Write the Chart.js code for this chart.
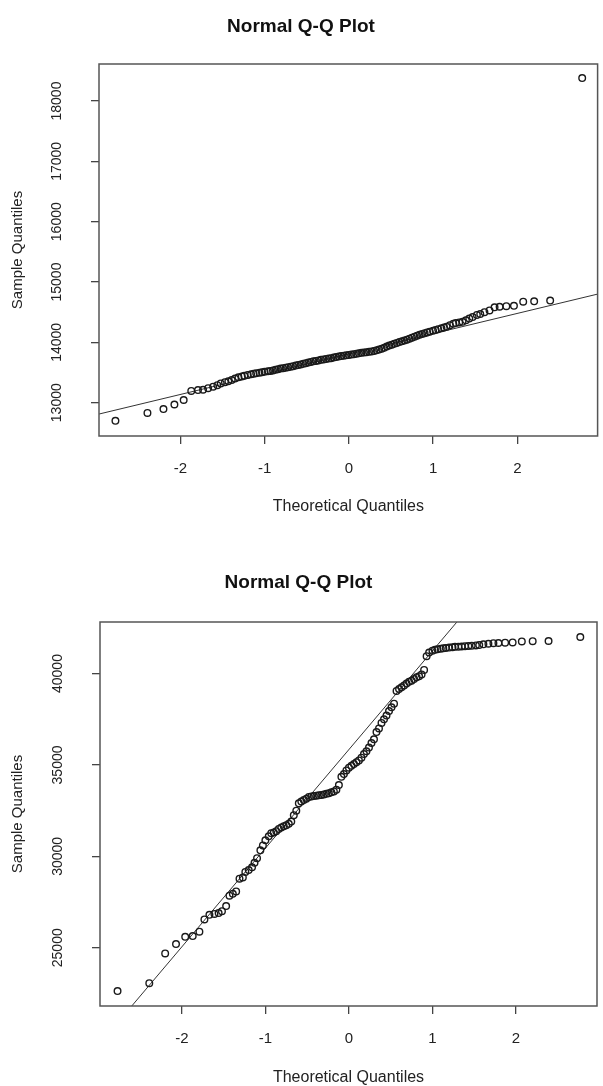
<!DOCTYPE html>
<html>
<head>
<meta charset="utf-8">
<title>Normal Q-Q Plots</title>
<script src="https://cdn.jsdelivr.net/npm/chart.js@4.4.0/dist/chart.umd.min.js"></script>
<style>
  body { margin: 0; background: #fff; }
  canvas { display: block; }
</style>
</head>
<body>
<canvas id="topChart" width="603" height="540"></canvas>
<canvas id="bottomChart" width="603" height="546"></canvas>
<script>
// theoretical quantiles (shared by both plots, tails complete, middle thinned)
const theoretical = [
  -2.77, -2.39, -2.20, -2.07, -1.96, -1.87, -1.79, -1.73, -1.67, -1.61, -1.56, -1.52, -1.47,
  -1.43, -1.39, -1.35, -1.31, -1.27, -1.24, -1.20, -1.16, -1.13, -1.10, -1.06, -1.03, -1.00,
  -0.96, -0.93, -0.90, -0.87, -0.84, -0.81, -0.78, -0.75, -0.72, -0.69, -0.66, -0.63, -0.60,
  -0.57, -0.54, -0.51, -0.48, -0.45, -0.42, -0.39, -0.36, -0.33, -0.30, -0.27, -0.24, -0.21,
  -0.18, -0.15, -0.12, -0.09, -0.06, -0.03, 0.00,
  0.03, 0.06, 0.09, 0.12, 0.15, 0.18, 0.21, 0.24, 0.27, 0.30, 0.33, 0.36, 0.39,
  0.42, 0.45, 0.48, 0.51, 0.54, 0.57, 0.60, 0.63, 0.66, 0.69, 0.72, 0.75, 0.78,
  0.81, 0.84, 0.87, 0.90, 0.93, 0.96, 1.00, 1.03, 1.06, 1.10, 1.13, 1.16, 1.20,
  1.24, 1.27, 1.31, 1.35, 1.39, 1.43, 1.47, 1.52, 1.56, 1.61, 1.67, 1.73, 1.79,
  1.87, 1.96, 2.07, 2.20, 2.39, 2.77
];

// sample quantiles, top plot
const sampleTop = [
  12700, 12830, 12895, 12970, 13045, 13195, 13210, 13215, 13240, 13265, 13290, 13320, 13340,
  13355, 13375, 13400, 13420, 13435, 13445, 13460, 13470, 13480, 13488, 13495, 13505, 13512,
  13520, 13525, 13535, 13545, 13555, 13565, 13572, 13580, 13588, 13597, 13605, 13615, 13625,
  13635, 13645, 13655, 13665, 13675, 13685, 13692, 13700, 13710, 13718, 13725, 13732, 13738,
  13748, 13757, 13765, 13772, 13780, 13786, 13792,
  13798, 13805, 13812, 13820, 13826, 13832, 13838, 13845, 13850, 13858, 13868, 13880, 13895,
  13912, 13930, 13948, 13962, 13975, 13990, 14005, 14018, 14030, 14045, 14062, 14078, 14095,
  14110, 14125, 14138, 14152, 14165, 14178, 14192, 14205, 14218, 14232, 14245, 14260, 14285,
  14310, 14320, 14330, 14340, 14365, 14395, 14420, 14455, 14470, 14500, 14530, 14580, 14590,
  14600, 14605, 14675, 14680, 14692, 18380
];

// sample quantiles, bottom plot
const sampleBottom = [
  22630, 23060, 24690, 25200, 25600, 25640, 25880, 26550, 26800, 26850, 26900, 27000, 27280,
  27850, 27950, 28080, 28780, 28850, 29150, 29250, 29400, 29650, 29900, 30330, 30600, 30880,
  31100, 31270, 31300, 31380, 31500, 31580, 31650, 31700, 31780, 31900, 32250, 32500, 32900,
  33000, 33080, 33150, 33250, 33280, 33300, 33320, 33340, 33360, 33380, 33420, 33450, 33500,
  33550, 33650, 33900, 34350, 34500, 34700, 34850,
  34950, 35050, 35150, 35250, 35400, 35600, 35750, 35950, 36200, 36400, 36800, 37000, 37300,
  37500, 37700, 37950, 38150, 38350, 39050, 39150, 39250, 39350, 39450, 39550, 39600, 39700,
  39800, 39850, 39950, 40200, 40950, 41150, 41250, 41300, 41330, 41360, 41380, 41400, 41420,
  41440, 41460, 41470, 41480, 41500, 41510, 41520, 41540, 41560, 41600, 41630, 41660, 41670,
  41690, 41700, 41760, 41770, 41780, 42000
];

// qq reference lines (end points, clipped to the plot box)
const lineTopX = [-3, 3];
const lineTopY = [12800, 14816];
const lineBottomX = [-2.8, 1.5];
const lineBottomY = [20735, 43938];

// axis ticks
const xTicks = [-2, -1, 0, 1, 2];
const topYTicks = [13000, 14000, 15000, 16000, 17000, 18000];
const bottomYTicks = [25000, 30000, 35000, 40000];

const FONT = "'Liberation Sans', Arial, sans-serif";
const TEXT = '#222';

// draws the R style box round the plot region
const frame = {
  id: 'frame',
  afterDatasetsDraw(chart) {
    const a = chart.chartArea;
    const c = chart.ctx;
    c.save();
    c.strokeStyle = '#555';
    c.lineWidth = 1.5;
    c.strokeRect(a.left, a.top, a.right - a.left, a.bottom - a.top);
    c.restore();
  }
};

function pts(xs, ys) {
  return xs.map(function (x, i) { return { x: x, y: ys[i] }; });
}

function makeQQ(el, cfg) {
  new Chart(el, {
    type: 'scatter',
    data: {
      datasets: [
        {
          data: pts(theoretical, cfg.sample),
          pointStyle: 'circle',
          pointRadius: 3.3,
          pointBorderWidth: 1.4,
          pointBorderColor: '#1a1a1a',
          pointBackgroundColor: 'rgba(0,0,0,0)'
        },
        {
          type: 'line',
          data: pts(cfg.lineX, cfg.lineY),
          showLine: true,
          borderColor: '#333',
          borderWidth: 1,
          pointRadius: 0,
          fill: false
        }
      ]
    },
    options: {
      responsive: false,
      animation: false,
      events: [],
      layout: { padding: { left: 0, top: 0, right: cfg.padRight, bottom: 0 } },
      plugins: {
        legend: { display: false },
        tooltip: { enabled: false },
        title: {
          display: true,
          text: 'Normal Q-Q Plot',
          color: '#111',
          font: { family: FONT, size: 19, weight: 'bold' },
          padding: { top: cfg.titleTop, bottom: cfg.titleBottom }
        }
      },
      scales: {
        x: {
          type: 'linear',
          min: cfg.xMin,
          max: cfg.xMax,
          afterBuildTicks: function (s) { s.ticks = xTicks.map(function (v) { return { value: v }; }); },
          afterFit: function (s) { s.height = cfg.xHeight; },
          grid: { drawOnChartArea: false, drawTicks: true, tickLength: 8, color: '#444', lineWidth: 1.3 },
          border: { display: false },
          ticks: {
            color: TEXT, padding: 15.5, maxRotation: 0,
            font: { family: FONT, size: 15 },
            callback: function (v) { return String(v); }
          },
          title: {
            display: true, text: 'Theoretical Quantiles', color: TEXT,
            font: { family: FONT, size: 16 },
            padding: { top: 0, bottom: cfg.xTitleBottom }
          }
        },
        y: {
          type: 'linear',
          min: cfg.yMin,
          max: cfg.yMax,
          afterBuildTicks: function (s) { s.ticks = cfg.yTicks.map(function (v) { return { value: v }; }); },
          afterFit: function (s) { s.width = cfg.yWidth; },
          grid: { drawOnChartArea: false, drawTicks: true, tickLength: 8, color: '#444', lineWidth: 1.3 },
          border: { display: false },
          ticks: {
            color: TEXT, padding: 14.5, minRotation: 90, maxRotation: 90, crossAlign: 'center',
            font: { family: FONT, size: 14 },
            callback: function (v) { return String(v); }
          },
          title: {
            display: true, text: 'Sample Quantiles', color: TEXT,
            font: { family: FONT, size: 15 },
            padding: { top: 9, bottom: 0 }
          }
        }
      }
    },
    plugins: [frame]
  });
}

makeQQ(document.getElementById('topChart'), {
  sample: sampleTop, lineX: lineTopX, lineY: lineTopY, yTicks: topYTicks,
  xMin: -2.965, xMax: 2.953, yMin: 12448, yMax: 18614,
  padRight: 1, titleTop: 15, titleBottom: 26.2, xHeight: 104, yWidth: 99, xTitleBottom: 23.4
});

makeQQ(document.getElementById('bottomChart'), {
  sample: sampleBottom, lineX: lineBottomX, lineY: lineBottomY, yTicks: bottomYTicks,
  xMin: -2.98, xMax: 2.97, yMin: 21814, yMax: 42820,
  padRight: 6, titleTop: 31.5, titleBottom: 27.7, xHeight: 80, yWidth: 100, xTitleBottom: -1.5
});
</script>
</body>
</html>
